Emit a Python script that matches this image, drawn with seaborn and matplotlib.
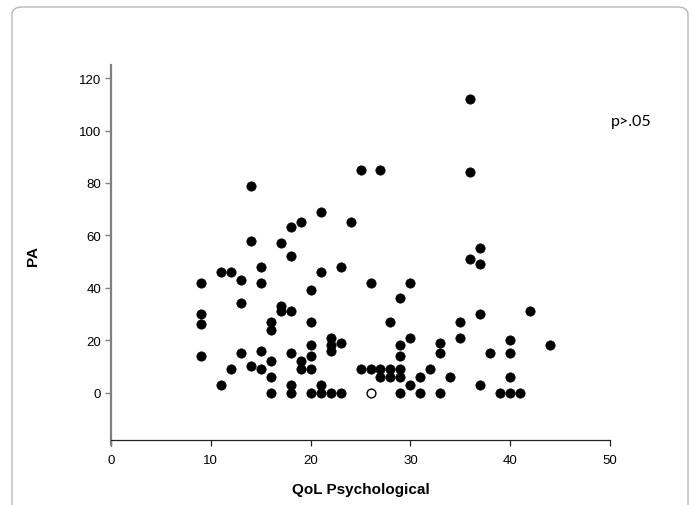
import matplotlib
matplotlib.use("Agg")
import matplotlib.pyplot as plt
from matplotlib.patches import FancyBboxPatch
import seaborn as sns
import pandas as pd

# QoL Psychological score (x) and PA (y)
qol = [9, 9, 9, 9,
       11, 11,
       12, 12,
       13, 13, 13,
       14, 14, 14,
       15, 15, 15, 15,
       16, 16, 16, 16, 16,
       17, 17, 17,
       18, 18, 18, 18, 18, 18,
       19, 19, 19,
       20, 20, 20, 20, 20, 20,
       21, 21, 21, 21,
       22, 22, 22, 22,
       23, 23, 23,
       24,
       25, 25,
       26, 26,
       27, 27, 27,
       28, 28, 28,
       29, 29, 29, 29, 29, 29,
       30, 30, 30,
       31, 31,
       32,
       33, 33, 33,
       34,
       35, 35,
       36, 36, 36,
       37, 37, 37, 37,
       38,
       39,
       40, 40, 40, 40,
       41,
       42,
       44]
pa = [42, 30, 26, 14,
      46, 3,
      46, 9,
      43, 34, 15,
      79, 58, 10,
      48, 42, 16, 9,
      27, 24, 12, 6, 0,
      57, 33, 31,
      63, 52, 31, 15, 3, 0,
      65, 12, 9,
      39, 27, 18, 14, 9, 0,
      69, 46, 3, 0,
      21, 18, 16, 0,
      48, 19, 0,
      65,
      85, 9,
      42, 9,
      85, 9, 6,
      27, 9, 6,
      36, 18, 14, 9, 6, 0,
      42, 21, 3,
      6, 0,
      9,
      19, 15, 0,
      6,
      27, 21,
      112, 84, 51,
      55, 49, 30, 3,
      15,
      0,
      20, 15, 6, 0,
      0,
      31,
      18]

# the single open (hollow) point
open_qol = [26]
open_pa = [0]

x_ticks = [0, 10, 20, 30, 40, 50]
y_ticks = [0, 20, 40, 60, 80, 100, 120]

df = pd.DataFrame({"QoL": qol, "PA": pa})
df_open = pd.DataFrame({"QoL": open_qol, "PA": open_pa})

sns.set_style("white")
plt.rcParams["font.family"] = ["Liberation Sans", "DejaVu Sans"]

fig = plt.figure(figsize=(6.94, 5.06), dpi=100)
ax = fig.add_axes([0.16, 0.1186, 0.719, 0.751])

# rounded frame around the figure
frame = FancyBboxPatch((12 / 694, -0.05), 676 / 694, 1 - 8 / 506 + 0.05,
                       boxstyle="round,pad=0,rounding_size=0.015",
                       transform=fig.transFigure, facecolor="none",
                       edgecolor="#b8b8b8", linewidth=1.0, zorder=0)
fig.patches.append(frame)

sns.scatterplot(data=df, x="QoL", y="PA", ax=ax, color="black",
                s=45, edgecolor="black", linewidth=0.5, legend=False)
sns.scatterplot(data=df_open, x="QoL", y="PA", ax=ax, color="white",
                s=40, edgecolor="black", linewidth=1.0, legend=False)

ax.set_xlim(0, 50)
ax.set_ylim(-20, 125)
ax.set_xticks(x_ticks)
ax.set_yticks(y_ticks)

for side in ["top", "right"]:
    ax.spines[side].set_visible(False)
ax.spines["left"].set_color("#808080")
ax.spines["left"].set_linewidth(1.6)
ax.spines["bottom"].set_color("#222222")
ax.spines["bottom"].set_linewidth(0.9)
ax.spines["bottom"].set_position(("data", -18))

ax.tick_params(axis="y", direction="out", length=4, width=1, color="#808080",
               labelsize=9.5, labelcolor="black", pad=3, left=True)
ax.tick_params(axis="x", direction="out", length=4, width=0.9, color="#222222",
               labelsize=9.5, labelcolor="black", pad=6, bottom=True)

ax.set_xlabel("QoL Psychological", fontsize=11, fontweight="bold",
              color="black", labelpad=12)
ax.set_ylabel("PA", fontsize=11, fontweight="bold", color="black", labelpad=28)

ax.text(631 / 694, 1 - 122 / 506, "p>.05", transform=fig.transFigure,
        ha="center", va="center", fontsize=11.5, color="black",
        family=["Lato", "DejaVu Sans"])

fig.savefig("out.png", dpi=100)
